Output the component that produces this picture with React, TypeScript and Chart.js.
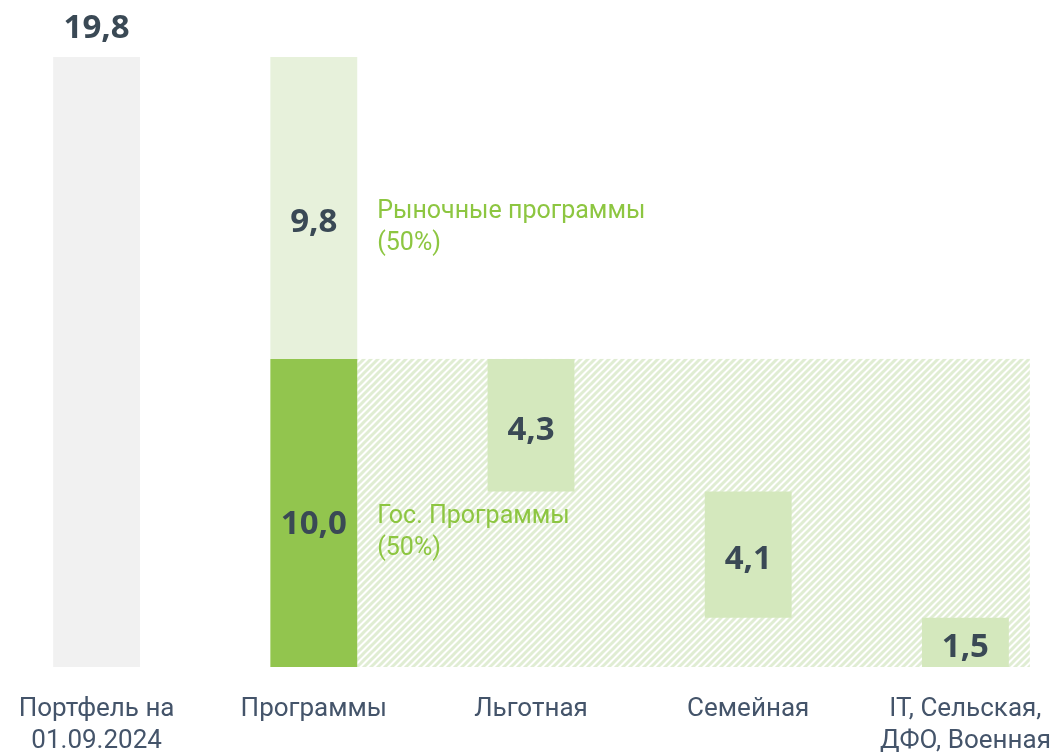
import React, { useEffect, useRef } from "react";
import { Chart, registerables } from "chart.js";

Chart.register(...registerables);

// ---- data ----
const CATEGORIES: (string | string[])[] = [
  ["Портфель на", "01.09.2024"],
  "Программы",
  "Льготная",
  "Семейная",
  ["IT, Сельская,", "ДФО, Военная"],
];
const PORTFOLIO_TOTAL = 19.8;
const GOV_PROGRAMS = 10.0;
const MARKET_PROGRAMS = 9.8;
const GOV_BREAKDOWN = [4.3, 4.1, 1.5]; // Льготная, Семейная, IT/Сельская/ДФО/Военная
const MARKET_NOTE = ["Рыночные программы", "(50%)"];
const GOV_NOTE = ["Гос. Программы", "(50%)"];

// ---- styles ----
const TEXT_FONT = 'Roboto, "Liberation Sans", sans-serif';
const NUM_FONT = '"Open Sans", "DejaVu Sans", sans-serif';
const NOTE_SIZE = 25;
const TICK_SIZE = 26;
const NUM_SIZE = 33;
const CAP_RATIO = 0.711;
const DIGIT_RATIO = 0.714;
const NUM_COLOR = "#3a4955";
const LABEL_COLOR = "#44546a";
const NOTE_COLOR = "#8dc641";
const GREY = "#f1f1f1";
const GOV_GREEN = "#92c54e";
const MARKET_GREEN = "#e7f1db";
const STEP_GREEN = "#d4e8bd";
const HATCH_GREEN = "#e0edd3";

const fmt = (v: number) => v.toFixed(1).replace(".", ",");

// waterfall ranges for the government programme breakdown
const stepRanges: ([number, number] | null)[] = [null, null];
{
  let cur = GOV_PROGRAMS;
  GOV_BREAKDOWN.forEach((v, i) => {
    const low = i === GOV_BREAKDOWN.length - 1 ? 0 : cur - v;
    stepRanges.push([low, cur]);
    cur -= v;
  });
}

function makeHatch(ctx: CanvasRenderingContext2D): CanvasPattern | string {
  const size = 7;
  const c = document.createElement("canvas");
  c.width = size;
  c.height = size;
  const p = c.getContext("2d");
  if (!p) return HATCH_GREEN;
  p.fillStyle = "#ffffff";
  p.fillRect(0, 0, size, size);
  p.strokeStyle = HATCH_GREEN;
  p.lineWidth = 3;
  p.beginPath();
  p.moveTo(-1, size + 1);
  p.lineTo(size + 1, -1);
  p.moveTo(-1 - size, size + 1);
  p.lineTo(1, -1);
  p.moveTo(size - 1, size + 1);
  p.lineTo(2 * size + 1, -1);
  p.stroke();
  return ctx.createPattern(c, "repeat") || HATCH_GREEN;
}

const hatchPlugin = {
  id: "hatchArea",
  beforeDatasetsDraw(chart: any) {
    const ctx: CanvasRenderingContext2D = chart.ctx;
    const y = chart.scales.y;
    const prog = chart.getDatasetMeta(1).data[1] as any;
    const last = chart.getDatasetMeta(3).data[CATEGORIES.length - 1] as any;
    if (!prog || !last) return;
    const left = prog.x + prog.width / 2;
    const right = last.x + last.width / 2 + 21;
    const top = y.getPixelForValue(GOV_PROGRAMS);
    const bottom = y.getPixelForValue(0);
    ctx.save();
    ctx.fillStyle = makeHatch(ctx);
    ctx.fillRect(left, top, right - left, bottom - top);
    ctx.restore();
  },
};

const labelPlugin = {
  id: "valueLabels",
  afterDatasetsDraw(chart: any) {
    const ctx: CanvasRenderingContext2D = chart.ctx;
    ctx.save();
    ctx.textAlign = "center";
    ctx.textBaseline = "alphabetic";
    ctx.font = `bold ${NUM_SIZE}px ${NUM_FONT}`;
    ctx.fillStyle = NUM_COLOR;
    const halfDigit = (NUM_SIZE * DIGIT_RATIO) / 2;
    chart.data.datasets.forEach((ds: any, di: number) => {
      const meta = chart.getDatasetMeta(di);
      meta.data.forEach((el: any, i: number) => {
        const raw = ds.data[i];
        if (!raw) return;
        const v = raw[1] - raw[0];
        const text = ds.valueTexts ? ds.valueTexts[i] : fmt(v);
        if (!text) return;
        if (ds.labelAbove) {
          ctx.fillText(text, el.x, el.y - 30.5 + halfDigit);
        } else {
          const mid = (el.y + el.base) / 2;
          ctx.fillText(text, el.x, mid + (ds.labelShift || 0) + halfDigit);
        }
      });
    });

    // notes next to the "Программы" bar
    const notes: [number, string[]][] = [
      [2, MARKET_NOTE],
      [1, GOV_NOTE],
    ];
    ctx.font = `${NOTE_SIZE}px ${TEXT_FONT}`;
    ctx.fillStyle = NOTE_COLOR;
    ctx.textAlign = "left";
    const halfCap = (NOTE_SIZE * CAP_RATIO) / 2;
    notes.forEach(([di, lines]) => {
      const el: any = chart.getDatasetMeta(di).data[1];
      if (!el) return;
      const x = el.x + el.width / 2 + 20;
      const mid = (el.y + el.base) / 2;
      lines.forEach((line, li) => {
        ctx.fillText(line, x, mid + 1 + halfCap + li * 32);
      });
    });
    ctx.restore();
  },
};

export default function App() {
  const ref = useRef<HTMLCanvasElement | null>(null);

  useEffect(() => {
    if (!ref.current) return;
    document.body.style.margin = "0";
    document.body.style.overflow = "hidden";
    const n = CATEGORIES.length;
    const only = (idx: number, val: [number, number] | null) =>
      Array.from({ length: n }, (_, i) => (i === idx ? val : null));

    const chart = new Chart(ref.current, {
      type: "bar",
      data: {
        labels: CATEGORIES,
        datasets: [
          {
            label: "Портфель",
            data: only(0, [0, PORTFOLIO_TOTAL]),
            backgroundColor: GREY,
            labelAbove: true,
          } as any,
          {
            label: "Гос. программы",
            data: only(1, [0, GOV_PROGRAMS]),
            backgroundColor: GOV_GREEN,
            labelShift: 9,
          } as any,
          {
            label: "Рыночные программы",
            data: only(1, [GOV_PROGRAMS, GOV_PROGRAMS + MARKET_PROGRAMS]),
            backgroundColor: MARKET_GREEN,
            labelShift: 12,
          } as any,
          {
            label: "Разбивка гос. программ",
            data: stepRanges,
            backgroundColor: STEP_GREEN,
            valueTexts: [null, null, ...GOV_BREAKDOWN.map(fmt)],
            labelShift: 3,
          } as any,
        ],
      },
      options: {
        animation: false,
        responsive: false,
        events: [],
        layout: { padding: { top: 57, left: 0, right: 0, bottom: 0 } },
        datasets: {
          bar: {
            barPercentage: 0.4,
            categoryPercentage: 1,
            borderWidth: 0,
            grouped: false,
          },
        },
        plugins: {
          legend: { display: false },
          tooltip: { enabled: false },
          title: { display: false },
        },
        scales: {
          x: {
            stacked: true,
            grid: { display: false },
            border: { display: false },
            ticks: {
              color: LABEL_COLOR,
              font: { family: TEXT_FONT, size: TICK_SIZE, lineHeight: 32 / TICK_SIZE },
              padding: 18,
              maxRotation: 0,
              autoSkip: false,
            },
            afterFit: (scale: any) => {
              scale.height = 85;
            },
          },
          y: {
            display: false,
            stacked: false,
            min: 0,
            max: PORTFOLIO_TOTAL,
          },
        },
      } as any,
      plugins: [hatchPlugin, labelPlugin],
    });
    return () => chart.destroy();
  }, []);

  return (
    <div style={{ position: "fixed", left: 0, top: 0, width: 1058, height: 752, overflow: "hidden", background: "#fff" }}>
      <canvas
        ref={ref}
        width={1086}
        height={752}
        style={{ position: "absolute", left: -12, top: 0, width: 1086, height: 752 }}
      />
    </div>
  );
}
